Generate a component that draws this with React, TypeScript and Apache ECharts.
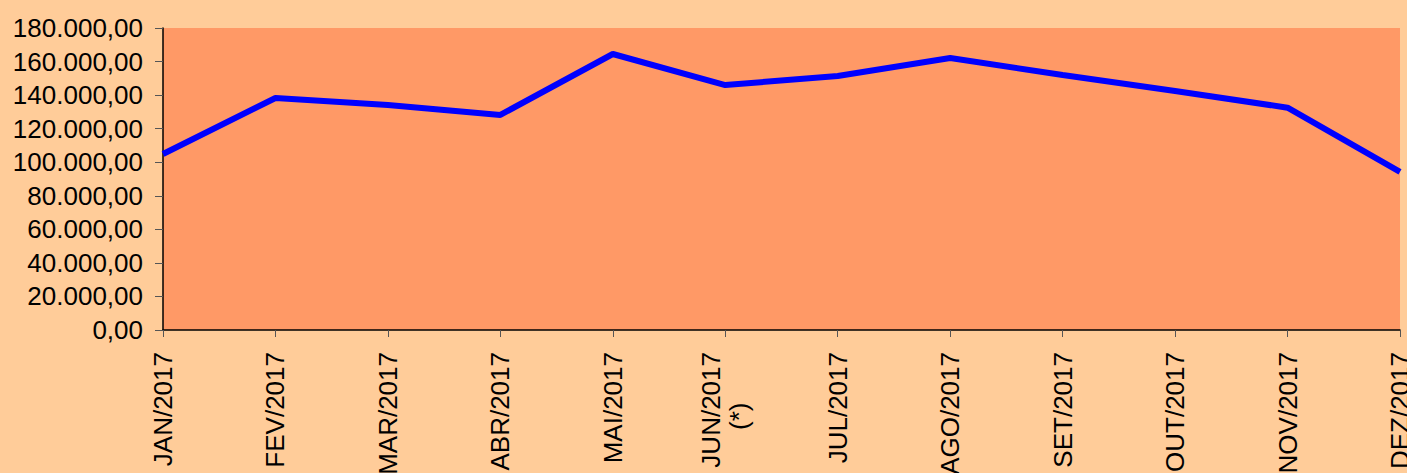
import React, { useEffect, useRef } from "react";
import * as echarts from "echarts";

const months = [
  "JAN/2017", "FEV/2017", "MAR/2017", "ABR/2017", "MAI/2017",
  "JUN/2017\n(*)\u00a0\u00a0\u00a0\u00a0\u00a0\u00a0\u00a0",
  "JUL/2017", "AGO/2017", "SET/2017", "OUT/2017", "NOV/2017", "DEZ/2017",
];
const values = [
  104900, 138300, 134100, 128200, 164500, 146000,
  151400, 162100, 152000, 142500, 132500, 94200,
];
const yTicks = { min: 0, max: 180000, interval: 20000 };

function fmt(v: number): string {
  const s = Math.round(v).toString();
  const withDots = s.replace(/\B(?=(\d{3})+(?!\d))/g, ".");
  return withDots + ",00";
}

export default function App() {
  const ref = useRef<HTMLDivElement>(null);
  useEffect(() => {
    document.body.style.margin = "0";
    document.body.style.overflow = "hidden";
    if (!ref.current) return;
    const chart = echarts.init(ref.current, undefined, { renderer: "svg" });
    const font = "'Liberation Sans', Arial, sans-serif";
    chart.setOption({
      animation: false,
      backgroundColor: "#FFCC99",
      grid: {
        left: 163, right: 7, top: 28, bottom: 143,
        containLabel: false,
        outerBoundsMode: "none",
        show: true, backgroundColor: "#FF9966", borderWidth: 0,
      },
      xAxis: {
        type: "category",
        data: months,
        boundaryGap: false,
        axisLine: { lineStyle: { color: "#000", width: 1.5 } },
        axisTick: { show: true, length: 7, lineStyle: { color: "#555", width: 1 } },
        axisLabel: {
          rotate: 90, margin: 22, interval: 0,
          fontSize: 26, fontFamily: font, color: "#000", lineHeight: 28,
        },
        splitLine: { show: false },
      },
      yAxis: {
        type: "value",
        min: yTicks.min, max: yTicks.max, interval: yTicks.interval,
        axisLine: { show: true, lineStyle: { color: "#000", width: 1.5 } },
        axisTick: { show: true, length: 8, lineStyle: { color: "#555", width: 1 } },
        axisLabel: {
          margin: 20, fontSize: 26, fontFamily: font, color: "#000",
          formatter: (v: number) => fmt(v),
        },
        splitLine: { show: false },
      },
      series: [
        {
          type: "line",
          data: values,
          symbol: "none",
          lineStyle: { color: "#0000FF", width: 6 },
        },
      ],
    });
    return () => chart.dispose();
  }, []);
  return <div ref={ref} style={{ width: 1407, height: 473 }} />;
}
